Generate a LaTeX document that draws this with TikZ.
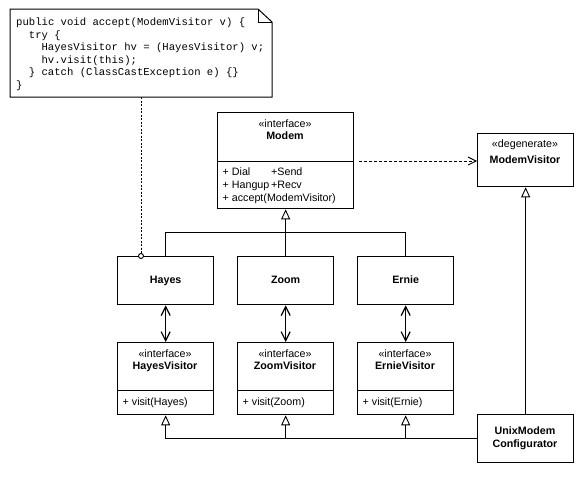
\documentclass[tikz,border=0pt]{standalone}
\usepackage{fontspec}
\setmainfont{Liberation Sans}
\newfontfamily\codefont{Liberation Mono}
\usetikzlibrary{arrows.meta}
\begin{document}
\begin{tikzpicture}[x=1pt,y=-1pt,
  box/.style={draw, line width=1.3pt, inner sep=0pt, anchor=north west},
  divider/.style={line width=0.8pt},
  txt/.style={inner sep=0pt, anchor=base, font=\fontsize{10.7}{12}\selectfont},
  ltxt/.style={txt, anchor=base west},
  btxt/.style={txt, font=\fontsize{10.7}{12}\selectfont\bfseries},
  code/.style={inner sep=0pt, anchor=base west, font=\codefont\fontsize{10.6}{12}\selectfont},
  conn/.style={line width=0.9pt},
  inh/.style={conn, -{Triangle[open, width=9pt, length=10pt, line width=0.9pt]}},
  nav/.style={line width=1.6pt, {Straight Barb[width=9pt,length=9pt,line width=1.2pt]}-{Straight Barb[width=9pt,length=9pt,line width=1.2pt]}},
  dep/.style={line width=0.9pt, dash pattern=on 3pt off 2pt, -{Straight Barb[width=8pt,length=8pt,line width=0.9pt]}},
  notelink/.style={line width=0.9pt, dash pattern=on 2pt off 1.5pt},
]
\useasboundingbox (0,0) rectangle (580,479);

% note
\draw[line width=1pt, fill=white] (10,9) -- (258,9) -- (272,22) -- (272,97) -- (10,97) -- cycle;
\draw[line width=1pt] (258,9) -- (258,22) -- (272,22);
\node[code] (c1) at (16,25.5) {public void accept(ModemVisitor v) \{};
\node[code] (c2) at (28.7,38.1) {try \{};
\node[code] (c3) at (41.4,50.7) {HayesVisitor hv = (HayesVisitor) v;};
\node[code] (c4) at (41.4,63.3) {hv.visit(this);};
\node[code] (c5) at (28.7,75.9) {\} catch (ClassCastException e) \{\}};
\node[code] (c6) at (16,88.5) {\}};

% Modem
\node[box, minimum width=136pt, minimum height=96pt] (modem) at (217,112) {};
\draw[divider] (217,161) -- (353,161);
\node[txt] (modemst) at (285,127.5) {«interface»};
\node[btxt] (modemnm) at (285,139) {Modem};
\node[ltxt] (m1) at (222.5,175) {+ Dial};
\node[ltxt] (m2) at (271,175) {+Send};
\node[ltxt] (m3) at (222.5,188) {+ Hangup};
\node[ltxt] (m4) at (271,188) {+Recv};
\node[ltxt] (m5) at (222.5,201) {+ accept(ModemVisitor)};

% ModemVisitor
\node[box, minimum width=96pt, minimum height=53pt] (mv) at (477,133) {};
\node[txt] (mvst) at (525,147.5) {«degenerate»};
\node[btxt] (mvnm) at (525,163.3) {ModemVisitor};

% Modem implementations
\node[box, minimum width=96pt, minimum height=48pt] (hayes) at (117,256) {};
\node[btxt] at (hayes.center) [yshift=-3.3pt] {Hayes};
\node[box, minimum width=96pt, minimum height=48pt] (zoom) at (237,256) {};
\node[btxt] at (zoom.center) [yshift=-3.3pt] {Zoom};
\node[box, minimum width=96pt, minimum height=48pt] (ernie) at (357,256) {};
\node[btxt] at (ernie.center) [yshift=-3.3pt] {Ernie};

% visitors
\node[box, minimum width=96pt, minimum height=72pt] (hv) at (117,342) {};
\draw[divider] (117,390) -- (213,390);
\node[txt] at (165,357.5) {«interface»};
\node[btxt] at (165,369) {HayesVisitor};
\node[ltxt] at (122.5,405) {+ visit(Hayes)};

\node[box, minimum width=96pt, minimum height=72pt] (zv) at (237,342) {};
\draw[divider] (237,390) -- (333,390);
\node[txt] at (285,357.5) {«interface»};
\node[btxt] at (285,369) {ZoomVisitor};
\node[ltxt] at (242.5,405) {+ visit(Zoom)};

\node[box, minimum width=96pt, minimum height=72pt] (ev) at (357,342) {};
\draw[divider] (357,390) -- (453,390);
\node[txt] at (405,357.5) {«interface»};
\node[btxt] at (405,369) {ErnieVisitor};
\node[ltxt] at (362.5,405) {+ visit(Ernie)};

% configurator
\node[box, minimum width=96pt, minimum height=48pt] (umc) at (477,414) {};
\node[btxt] at (525,434.7) {UnixModem};
\node[btxt] at (525,447.3) {Configurator};

% connectors
\draw[inh] (zoom.north) -- (modem.south);
\draw[conn] (hayes.north) -- ++(0,-24) -| (ernie.north);

\coordinate (dstart) at (359,161);
\draw[dep] (dstart) -- (dstart -| mv.west);

\draw[nav] (hayes.south) -- (hv.north);
\draw[nav] (zoom.south) -- (zv.north);
\draw[nav] (ernie.south) -- (ev.north);

\draw[inh] (umc.north) -- (mv.south);

\coordinate (b1) at (hv.south |- umc.west);
\coordinate (b2) at (zv.south |- umc.west);
\coordinate (b3) at (ev.south |- umc.west);
\draw[inh] (b1) -- (hv.south);
\draw[inh] (b2) -- (zv.south);
\draw[inh] (b3) -- (ev.south);
\draw[conn] (b1) -- (b2);
\draw[line width=1.6pt] (b2) -- (umc.west);

% note link
\coordinate (notebot) at (141,97);
\node[circle, draw, line width=0.9pt, fill=white, inner sep=0pt, minimum size=5pt] (hcirc) at (141,256) {};
\draw[notelink] (notebot) -- (hcirc);
\end{tikzpicture}
\end{document}
